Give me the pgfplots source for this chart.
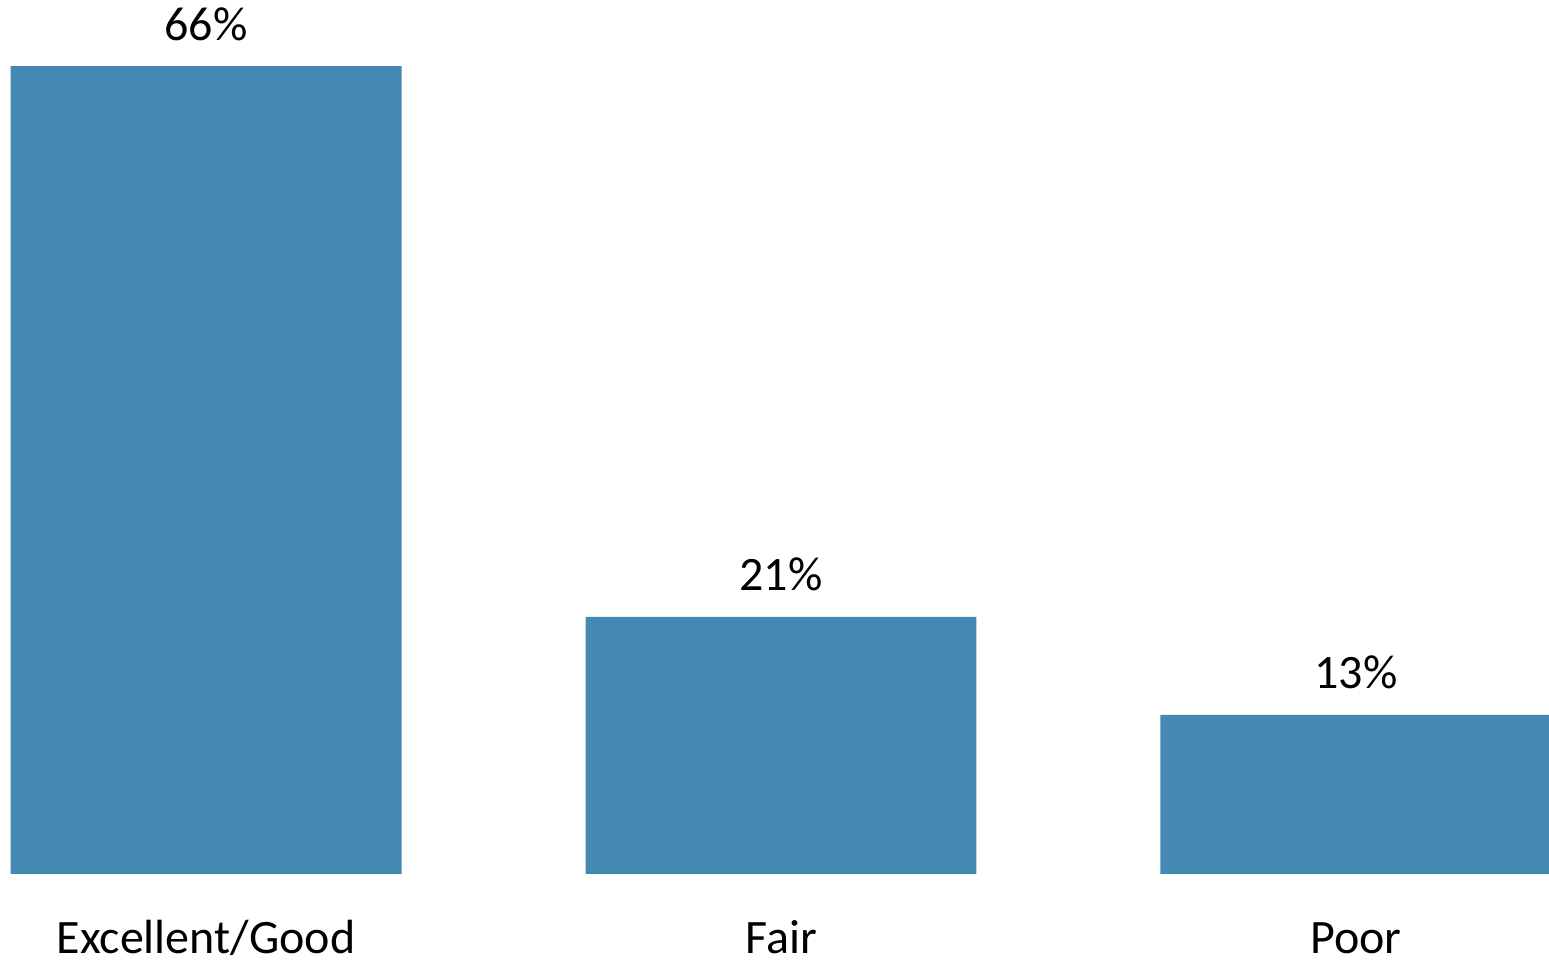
\documentclass[border=0pt]{standalone}
\usepackage{pgfplots}
\pgfplotsset{compat=1.18}
\usepackage{fontspec}
\setmainfont{Carlito}
\definecolor{barblue}{RGB}{67,137,179}
\begin{document}
\begin{tikzpicture}
\begin{axis}[
  scale only axis,
  width=774.5pt, height=480pt,
  xmin=-0.3583, xmax=2.3357,
  ymin=-7.03, ymax=71.4,
  axis line style={draw=none},
  tick style={draw=none},
  ytick=\empty,
  xtick={0,1,2},
  xticklabels={Excellent/Good,Fair,Poor},
  xticklabel style={anchor=base, inner sep=0pt, yshift=7.7pt, font=\fontsize{24}{28}\selectfont},
  ybar, bar width=0.68,
  point meta=explicit symbolic,
  nodes near coords,
  every node near coord/.append style={anchor=base, inner sep=0pt, yshift=13pt, font=\fontsize{24}{28}\selectfont, text=black},
]
\addplot[fill=barblue, draw=none] coordinates {(0,66) [66\%] (1,21) [21\%] (2,13) [13\%]};
\end{axis}
\pgfresetboundingbox
\useasboundingbox (current axis.south west) rectangle (current axis.north east);
\end{tikzpicture}
\end{document}
